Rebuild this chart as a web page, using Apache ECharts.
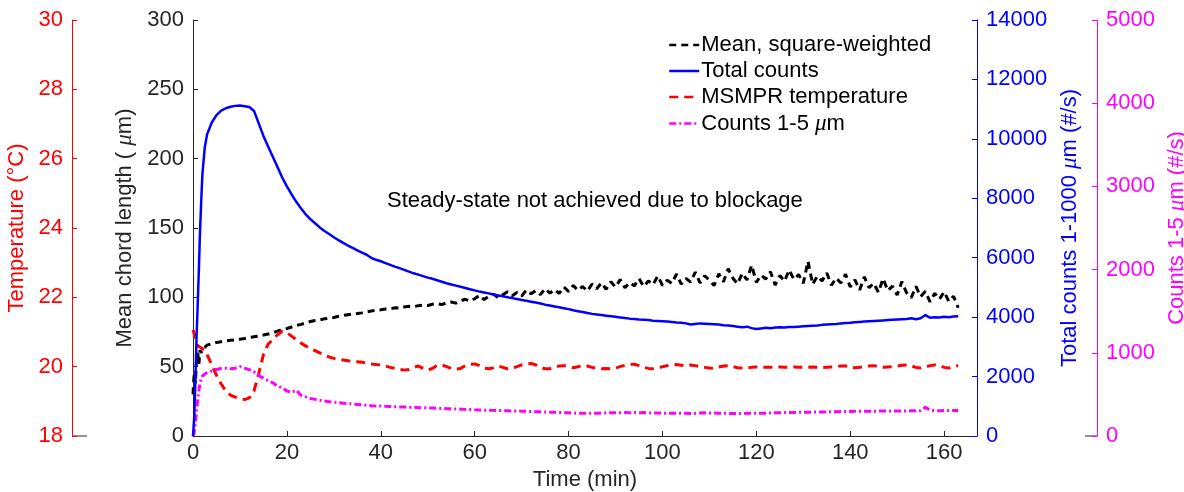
<!DOCTYPE html>
<html>
<head>
<meta charset="utf-8">
<title>MSMPR run: chord length, counts and temperature</title>
<script src="https://cdn.jsdelivr.net/npm/echarts@6/dist/echarts.min.js"></script>
<style>
  html, body { margin: 0; padding: 0; background: #ffffff; }
  #chart { width: 1184px; height: 492px; }
</style>
</head>
<body>
<div id="chart"></div>
<script>
// Sampling times (min): finer steps over the start-up transient, then one per minute
const timeMin = [0, 0.25, 0.5, 0.75, 1, 1.25, 1.5, 1.75, 2, 2.5,
  3, 4, 5, 6, 7, 8, 9, 10, 11, 12, 13, 14, 15, 16, 17, 18, 19, 20,
  21, 22, 23, 24, 25, 26, 27, 28, 29, 30, 31, 32, 33, 34, 35, 36, 37, 38, 39, 40,
  41, 42, 43, 44, 45, 46, 47, 48, 49, 50, 51, 52, 53, 54, 55, 56, 57, 58, 59, 60,
  61, 62, 63, 64, 65, 66, 67, 68, 69, 70, 71, 72, 73, 74, 75, 76, 77, 78, 79, 80,
  81, 82, 83, 84, 85, 86, 87, 88, 89, 90, 91, 92, 93, 94, 95, 96, 97, 98, 99, 100,
  101, 102, 103, 104, 105, 106, 107, 108, 109, 110, 111, 112, 113, 114, 115, 116, 117, 118, 119, 120,
  121, 122, 123, 124, 125, 126, 127, 128, 129, 130, 131, 132, 133, 134, 135, 136, 137, 138, 139, 140,
  141, 142, 143, 144, 145, 146, 147, 148, 149, 150, 151, 152, 153, 154, 155, 156, 157, 158, 159, 160,
  161, 162, 163];

// Mean chord length, square-weighted (um)
const meanChord = [30, 45, 38, 55, 60, 52, 62, 60, 63, 64,
  65.5, 66.5, 67.5, 68, 68.5, 69, 69.3, 69.8, 70.3, 71, 71.5, 72, 72.8, 73.5, 74.5, 75.6, 76.8, 77.5,
  78.6, 79.8, 80.5, 81.5, 82.6, 83.3, 83.8, 84.5, 85, 85.5, 86.3, 87, 87.5, 88, 88.3, 88.8, 89.5, 90.2, 90.8, 91,
  91.6, 91.8, 92.4, 92.2, 93, 93.5, 93.2, 94, 94.4, 94.1, 95, 95.5, 94.8, 96, 96.6, 95.8, 97.5, 98.6, 97.2, 99,
  101.5, 98.4, 100.8, 102.3, 99.6, 101.8, 104, 101.2, 103.5, 100.9, 105.2, 102.6, 104.8, 101.9, 106.3, 103, 105.6, 102.8, 107.5, 104.2,
  108.6, 105, 107.8, 104.5, 109.6, 106.2, 110.5, 105.8, 111.2, 107.4, 112.8, 106.9, 110.6, 108.3, 113.5, 107.8, 111.9, 109.2, 115.4, 108.6,
  112.3, 110, 116.8, 109.5, 113.7, 111, 118.2, 110.4, 115.6, 112.2, 108.5, 116.9, 111.3, 120.6, 113.8, 109.7, 117.4, 112.5, 123.2, 110.8,
  116, 113.2, 118.5, 108.9, 115.7, 111.6, 119.8, 112.9, 116.4, 110.2, 126, 109.4, 115.3, 111.8, 117.6, 108.7, 113.9, 110.3, 116.7, 107.5,
  112.6, 105.3, 114.8, 106.9, 110.2, 103.6, 113.5, 104.8, 108.1, 101.7, 111.4, 103.2, 99.8, 107.9, 100.5, 104.3, 96.8, 102.9, 98.6, 104.1,
  97, 100.8, 92.5];

// Total counts 1-1000 um (#/s)
const totalCounts = [0, 600, 1800, 3300, 4400, 5600, 6900, 7900, 8800, 9700,
  10150, 10550, 10800, 10950, 11030, 11080, 11110, 11120, 11100, 11070, 10940, 10520, 10100, 9740, 9400, 9050, 8700, 8400,
  8130, 7880, 7660, 7460, 7300, 7160, 7020, 6900, 6800, 6690, 6590, 6500, 6410, 6330, 6250, 6170, 6100, 5990, 5930, 5880,
  5820, 5760, 5700, 5650, 5590, 5530, 5475, 5430, 5380, 5330, 5290, 5240, 5190, 5140, 5100, 5060, 5020, 4980, 4940, 4900,
  4860, 4830, 4800, 4760, 4730, 4700, 4670, 4640, 4610, 4580, 4550, 4520, 4490, 4460, 4420, 4390, 4360, 4330, 4300, 4270,
  4230, 4200, 4170, 4140, 4110, 4090, 4070, 4050, 4030, 4010, 3990, 3970, 3950, 3940, 3920, 3910, 3900, 3880, 3870, 3860,
  3850, 3840, 3820, 3810, 3790, 3750, 3770, 3790, 3780, 3770, 3760, 3750, 3730, 3720, 3700, 3680, 3660, 3680, 3630, 3600,
  3620, 3640, 3630, 3650, 3660, 3650, 3670, 3670, 3680, 3690, 3700, 3710, 3720, 3740, 3750, 3760, 3770, 3790, 3800, 3810,
  3830, 3840, 3850, 3860, 3870, 3880, 3890, 3900, 3910, 3920, 3930, 3940, 3960, 3930, 3960, 4070, 3980, 4000, 3990, 4010,
  4000, 4020, 4030];

// MSMPR temperature (deg C)
const temperature = [21.06, 20.95, 20.8, 20.7, 20.6, 20.58, 20.56, 20.54, 20.52, 20.48,
  20.35, 20.05, 19.75, 19.5, 19.3, 19.18, 19.12, 19.08, 19.05, 19.1, 19.3, 19.8, 20.35, 20.65, 20.78, 20.92, 21.02, 20.98,
  20.88, 20.78, 20.68, 20.6, 20.52, 20.46, 20.4, 20.33, 20.28, 20.24, 20.21, 20.19, 20.17, 20.15, 20.14, 20.13, 20.1, 20.08, 20.06, 20.05,
  20.02, 19.98, 19.95, 19.92, 19.9, 19.92, 19.98, 20.02, 19.95, 19.9, 19.95, 20.04, 20.05, 20, 19.95, 19.93, 19.95, 20.03, 20.07, 20.08,
  20.03, 19.96, 19.94, 19.97, 20.02, 19.98, 19.94, 19.95, 20, 20.05, 20.08, 20.09, 20.05, 19.98, 19.94, 19.94, 19.98, 20.02, 20.03, 20,
  19.97, 20, 20.03, 20.02, 19.98, 19.95, 19.94, 19.95, 19.94, 19.96, 20, 20.04, 20.07, 20.07, 20.03, 19.98, 19.95, 19.94, 19.96, 20,
  20.03, 20.05, 20.06, 20.04, 20.02, 20.05, 20.03, 20, 19.98, 19.96, 19.95, 19.99, 20.02, 20.03, 20, 19.97, 19.96, 19.96, 19.98, 19.99,
  19.98, 19.98, 19.98, 19.98, 19.99, 19.98, 19.98, 19.99, 19.98, 19.98, 19.98, 19.99, 19.98, 19.97, 19.98, 19.99, 20, 20.02, 20.02, 19.99,
  19.97, 19.98, 20, 20.02, 20.03, 20, 19.98, 19.99, 20, 20.02, 20.04, 20.05, 20.02, 19.98, 19.96, 19.99, 20.03, 20.05, 20.03, 19.98,
  19.96, 20, 20.03];

// Counts 1-5 um (#/s)
const fineCounts = [0, 40, 150, 300, 430, 550, 630, 690, 720, 745,
  760, 780, 800, 812, 815, 808, 815, 833, 815, 798, 770, 725, 695, 665, 640, 600, 580, 540,
  525, 550, 490, 470, 450, 440, 430, 420, 413, 405, 400, 395, 390, 385, 380, 375, 370, 365, 362, 360,
  357, 355, 353, 350, 348, 346, 345, 342, 340, 338, 336, 333, 331, 329, 327, 325, 323, 320, 318, 315,
  313, 311, 310, 308, 306, 305, 303, 301, 300, 298, 296, 294, 292, 290, 288, 286, 284, 282, 280, 278,
  276, 274, 272, 272, 273, 274, 276, 278, 280, 278, 280, 282, 280, 282, 280, 281, 279, 277, 276, 275,
  274, 273, 272, 272, 272, 271, 272, 276, 278, 277, 276, 274, 273, 272, 271, 270, 271, 272, 273, 272,
  272, 274, 276, 278, 280, 281, 282, 283, 284, 285, 286, 287, 288, 289, 290, 292, 292, 293, 294, 295,
  296, 296, 297, 298, 298, 299, 299, 300, 300, 300, 301, 301, 302, 302, 305, 345, 310, 305, 304, 305,
  305, 306, 305];

const FONT = '"Liberation Sans", Arial, Helvetica, sans-serif';
const DARK = '#262626';
const BLUE = '#0000ff';
const RED = '#ff0000';
const MAGENTA = '#ff00ff';

function pairs(values) {
  return values.map((v, i) => [timeMin[i], v]);
}

const muRich = (color) => ({
  t: { fontFamily: FONT, fontSize: 22, color: color },
  mu: { fontFamily: '"Liberation Serif", "DejaVu Serif", serif', fontStyle: 'italic', fontSize: 23, color: color }
});

function yAxisStyle(color, opts) {
  return Object.assign({
    type: 'value',
    nameLocation: 'middle',
    nameTextStyle: { fontFamily: FONT, fontSize: 22, color: color, rich: muRich(color) },
    axisLine: { show: true, lineStyle: { color: color, width: 1 } },
    axisTick: { show: true, inside: true, length: 5, lineStyle: { color: color } },
    axisLabel: { fontFamily: FONT, fontSize: 22, color: color, margin: 9, formatter: (v) => String(v) },
    splitLine: { show: false }
  }, opts);
}

const chart = echarts.init(document.getElementById('chart'), null, { renderer: 'canvas' });

chart.setOption({
  animation: false,
  backgroundColor: '#ffffff',
  grid: { left: 193, right: 207, top: 20, bottom: 56, containLabel: false, outerBoundsMode: 'none' },
  legend: {
    orient: 'vertical',
    left: 668,
    top: 34,
    padding: 0,
    itemWidth: 30,
    itemHeight: 14,
    itemGap: 4,
    selectedMode: false,
    itemStyle: { opacity: 0, color: 'rgba(0,0,0,0)', borderWidth: 0 },
    lineStyle: { width: 2.5 },
    textStyle: { fontFamily: FONT, fontSize: 22, color: '#000000', padding: [0, 0, 0, -3], rich: muRich('#000000') },
    formatter: function (name) {
      if (name === 'Counts 1-5 μm') return '{t|Counts 1-5 }{mu|μ}{t|m}';
      return '{t|' + name + '}';
    },
    data: ['Mean, square-weighted', 'Total counts', 'MSMPR temperature', 'Counts 1-5 μm']
  },
  xAxis: {
    type: 'value',
    min: 0,
    max: 167,
    interval: 20,
    name: 'Time (min)',
    nameLocation: 'middle',
    nameGap: 31,
    nameTextStyle: { fontFamily: FONT, fontSize: 22, color: DARK },
    axisLine: { show: true, onZero: false, lineStyle: { color: DARK, width: 1 } },
    axisTick: { show: true, inside: true, length: 5, lineStyle: { color: DARK } },
    axisLabel: {
      fontFamily: FONT, fontSize: 22, color: DARK, margin: 6,
      formatter: (v) => (v % 20 === 0 ? String(v) : '')
    },
    splitLine: { show: false }
  },
  yAxis: [
    yAxisStyle(DARK, {
      position: 'left', offset: 0, min: 0, max: 300, interval: 50,
      name: '{t|Mean chord length ( }{mu|μ}{t|m)}', nameGap: 49
    }),
    yAxisStyle(RED, {
      position: 'left', offset: 121, min: 18, max: 30, interval: 2,
      name: 'Temperature (°C)', nameGap: 42
    }),
    yAxisStyle(BLUE, {
      position: 'right', offset: 0, min: 0, max: 14000, interval: 2000,
      name: '{t|Total counts 1-1000 }{mu|μ}{t|m (#/s)}', nameGap: 74
    }),
    yAxisStyle(MAGENTA, {
      position: 'right', offset: 120, min: 0, max: 5000, interval: 1000,
      name: '{t|Counts 1-5 }{mu|μ}{t|m (#/s)}', nameGap: 59
    })
  ],
  series: [
    {
      name: 'Mean, square-weighted', type: 'line', yAxisIndex: 0,
      symbol: 'none', showSymbol: false, z: 3,
      lineStyle: { color: '#000000', width: 3, type: [7, 5] },
      itemStyle: { color: '#000000' },
      data: pairs(meanChord)
    },
    {
      name: 'Total counts', type: 'line', yAxisIndex: 2,
      symbol: 'none', showSymbol: false, z: 4,
      lineStyle: { color: BLUE, width: 2.5, type: 'solid' },
      itemStyle: { color: BLUE },
      data: pairs(totalCounts)
    },
    {
      name: 'MSMPR temperature', type: 'line', yAxisIndex: 1,
      symbol: 'none', showSymbol: false, z: 3,
      lineStyle: { color: RED, width: 3, type: [9, 6] },
      itemStyle: { color: RED },
      data: pairs(temperature)
    },
    {
      name: 'Counts 1-5 μm', type: 'line', yAxisIndex: 3,
      symbol: 'none', showSymbol: false, z: 3,
      lineStyle: { color: MAGENTA, width: 3, type: [7, 3, 2, 3] },
      itemStyle: { color: MAGENTA },
      data: pairs(fineCounts)
    }
  ],
  graphic: [
    {
      type: 'text', left: 387, top: 190, silent: true,
      style: { text: 'Steady-state not achieved due to blockage', font: '22px ' + FONT, fill: '#000000' }
    },
    // short baseline stubs at the foot of the two outer axes
    { type: 'line', silent: true, shape: { x1: 72, y1: 436, x2: 87, y2: 436 }, style: { stroke: DARK, lineWidth: 1 } },
    { type: 'line', silent: true, shape: { x1: 1085, y1: 436, x2: 1097, y2: 436 }, style: { stroke: DARK, lineWidth: 1 } }
  ]
});
</script>
</body>
</html>
